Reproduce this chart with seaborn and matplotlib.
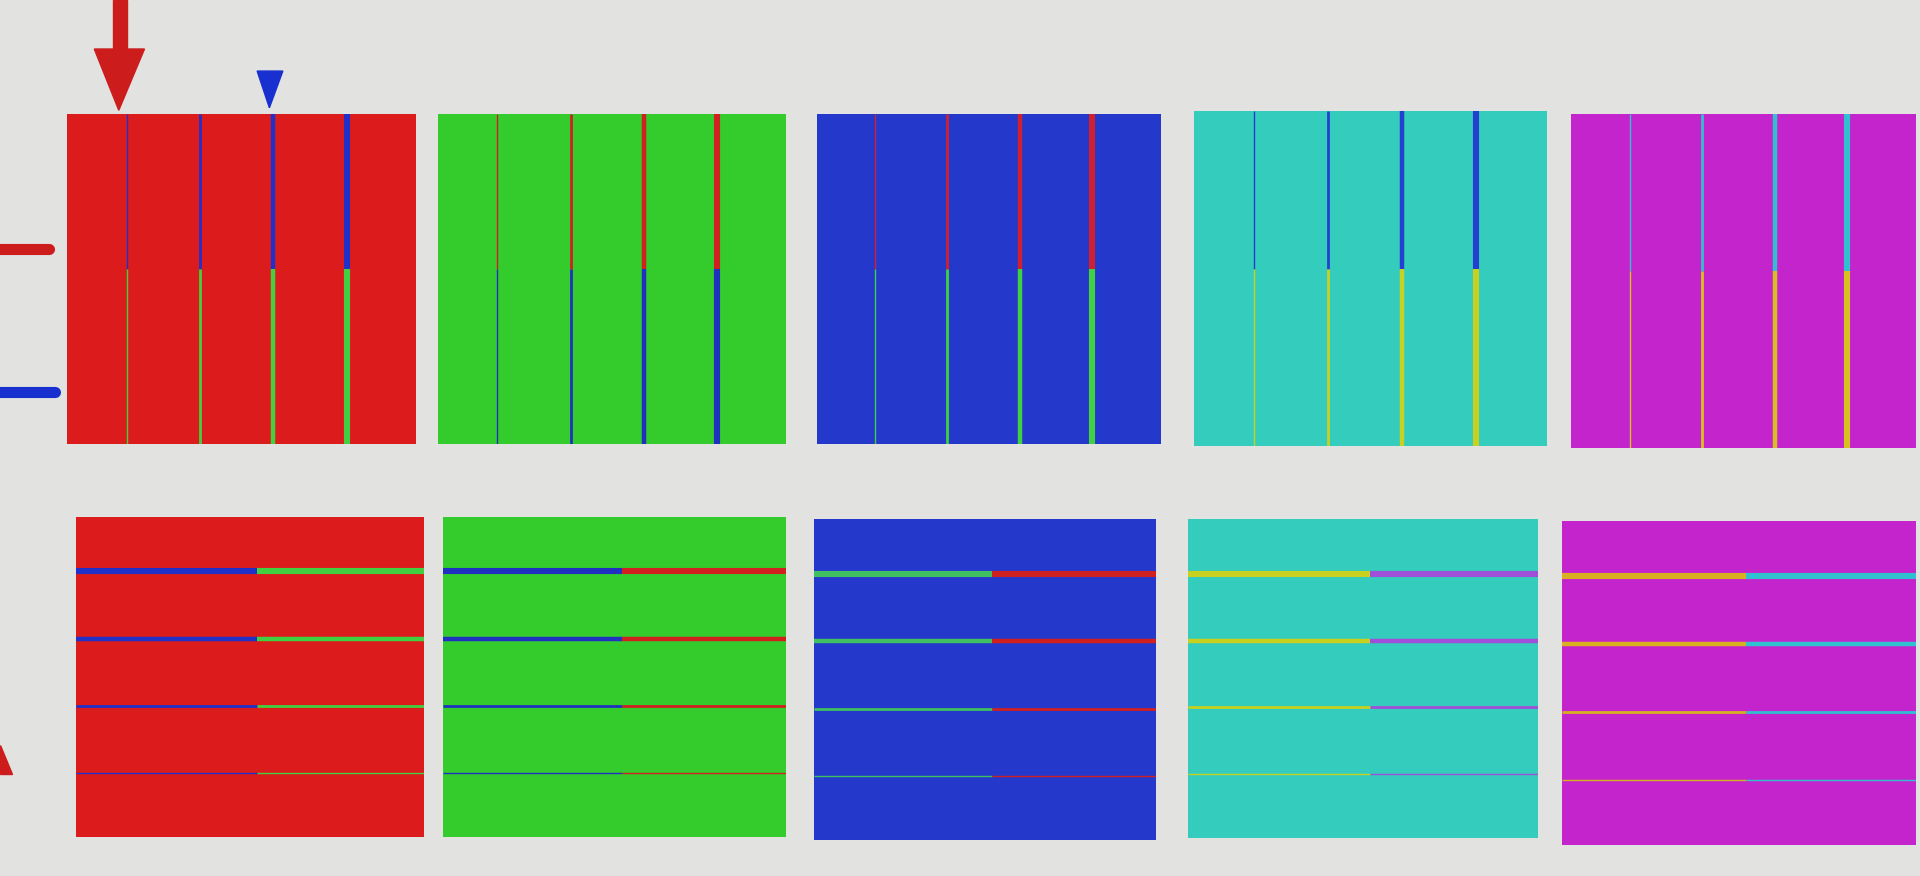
import matplotlib
matplotlib.use("Agg")
import matplotlib.pyplot as plt
import numpy as np
import seaborn as sns

# panel colours and the two colours of each split line
fills = ["#dc1c1c", "#34cc2c", "#2438cc", "#34ccbc", "#c424cc"]
first_half = ["#2030c8", "#d02020", "#d02030", "#2440d0", "#30c0d0"]
second_half = ["#40d040", "#2030c0", "#40d040", "#c8d020", "#d8c020"]
first_half_rows = ["#2030c8", "#2030c0", "#40c060", "#c8d020", "#d8b020"]
second_half_rows = ["#40d040", "#d02020", "#d02020", "#a050d8", "#30c0d0"]
line_pos = [0.17, 0.38, 0.59, 0.80]
line_w = [1.0, 2.0, 3.2, 4.4]

# panel boxes in reference pixels: left, top, right, bottom
top_boxes = [(55, 93, 340, 362), (358, 93, 642, 362), (667, 93, 948, 362),
             (975, 91, 1263, 364), (1283, 93, 1565, 366)]
bot_boxes = [(62, 422, 346, 683), (362, 422, 642, 683), (665, 424, 944, 686),
             (970, 424, 1256, 684), (1276, 425, 1565, 690)]

sns.set_theme(style="white")
W, H = 1568, 715
fig = plt.figure(figsize=(19.2, 8.76), dpi=100)
fig.patch.set_facecolor("#e2e2e0")

def box_axes(b):
    l, t, r, bo = b
    return fig.add_axes([l / W, 1 - bo / H, (r - l) / W, (bo - t) / H])

for i in range(5):
    cmap = matplotlib.colors.ListedColormap([fills[i]])
    ax = box_axes(top_boxes[i])
    sns.heatmap(np.zeros((1, 1)), cmap=cmap, cbar=False, ax=ax,
                xticklabels=False, yticklabels=False)
    ax.set_xlim(0, 1); ax.set_ylim(1, 0)
    for p, w in zip(line_pos, line_w):
        ax.plot([p, p], [0, 0.47], color=first_half[i], lw=w, solid_capstyle="butt")
        ax.plot([p, p], [0.47, 1], color=second_half[i], lw=w, solid_capstyle="butt")
    ax.axis("off")

    ax = box_axes(bot_boxes[i])
    sns.heatmap(np.zeros((1, 1)), cmap=cmap, cbar=False, ax=ax,
                xticklabels=False, yticklabels=False)
    ax.set_xlim(0, 1); ax.set_ylim(1, 0)
    for p, w in zip(line_pos, line_w[::-1]):
        ax.plot([0, 0.52], [p, p], color=first_half_rows[i], lw=w, solid_capstyle="butt")
        ax.plot([0.52, 1], [p, p], color=second_half_rows[i], lw=w, solid_capstyle="butt")
    ax.axis("off")

# markers around the panels
ov = fig.add_axes([0, 0, 1, 1])
ov.set_xlim(0, W); ov.set_ylim(H, 0); ov.axis("off")
ov.add_patch(plt.Rectangle((92, 0), 12, 45, color="#cc1c1c"))
ov.add_patch(plt.Polygon([(77, 40), (118, 40), (97, 90)], color="#cc1c1c"))
ov.add_patch(plt.Polygon([(210, 58), (231, 58), (220, 88)], color="#1830d0"))
ov.plot([0, 40], [203, 203], color="#cc1c1c", lw=8, solid_capstyle="round")
ov.plot([0, 45], [320, 320], color="#1830d0", lw=8, solid_capstyle="round")
ov.add_patch(plt.Polygon([(0, 608), (0, 632), (10, 632)], color="#cc1c1c"))

fig.savefig("out.png", dpi=100, facecolor=fig.get_facecolor())
